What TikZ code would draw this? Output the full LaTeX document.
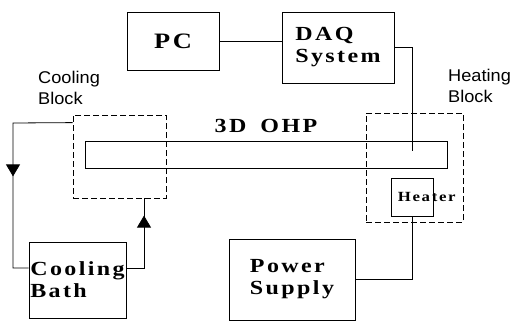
\documentclass[tikz,border=0pt]{standalone}
\usepackage{fontspec}
\usepackage{tikz}
\usetikzlibrary{arrows.meta, positioning, calc, decorations.markings}
\newfontfamily\boxfont[FakeStretch=1.2,LetterSpace=12]{Liberation Serif}
\newfontfamily\sidefont[FakeStretch=1.07]{Liberation Sans}

\begin{document}
\begin{tikzpicture}[
    x=1pt, y=-1pt,
    unit/.style={draw, line width=0.8pt, inner sep=0pt,
                 font=\boxfont\bfseries\fontsize{20}{22}\selectfont, align=left},
    blockzone/.style={draw, line width=0.8pt, dash pattern=on 6pt off 3pt, inner sep=0pt},
    sidelabel/.style={font=\sidefont\fontsize{17}{21}\selectfont, align=left, inner sep=0pt},
    wire/.style={line width=0.8pt},
    flow/.style={line width=0.8pt, postaction={decorate, decoration={markings,
                 mark=at position #1 with {\arrow{Triangle[length=12pt,width=14pt]}}}}},
]
\useasboundingbox (0,0) rectangle (513,321);

% Boxes
\node[unit, minimum width=92pt, minimum height=58pt,
      font=\boxfont\bfseries\fontsize{22}{24}\selectfont] (pc) at (173,41) {PC};
\node[unit, minimum width=112pt, minimum height=71pt] (daq) at (338,47.5) {DAQ\\System};
\node[unit, minimum width=97pt, minimum height=76pt] (bath) at (77.5,280) {Cooling\\Bath};
\node[unit, minimum width=126pt, minimum height=81pt] (power) at (292,279.5) {Power\\Supply};

% Heat pipe and blocks
\node[draw, line width=0.8pt, minimum width=362pt, minimum height=27pt] (ohp) at (266,154.5) {};
\node[unit, draw=none, above=8pt of ohp] (ohplabel) {3D\hspace{14pt}OHP};
\node[blockzone, minimum width=93pt, minimum height=83pt] (cblock) at (119.5,156.5) {};
\node[blockzone, minimum width=97pt, minimum height=109pt] (hblock) at (414.5,167.5) {};
\node[draw, line width=0.8pt, minimum width=42pt, minimum height=38pt] (heater) at (412,197) {};
\node[font=\boxfont\bfseries\fontsize{14}{15}\selectfont, inner sep=0pt,
      anchor=west, right=7pt of heater.west] (heaterlabel) {Heater};

% Labels
\node[sidelabel, anchor=west] (cblocklabel) at (38,88) {Cooling\\Block};
\node[sidelabel, anchor=west] (hblocklabel) at (448,86) {Heating\\Block};

% Connections
\coordinate (probe) at (412,151);
\coordinate (coolout) at ($(cblock.north west)+(0,8)$);
\coordinate (bathin) at ($(bath.west)+(0,-12)$);
\coordinate (bathout) at ($(bath.east)+(0,-12)$);
\coordinate (leftrun) at (13,123);
\coordinate (rightrun) at (144,198);

\draw[wire] (pc.east) -- (pc.east -| daq.west);
\draw[wire] ([yshift=0.5pt]daq.east) -| (probe);
\draw[flow=113pt] (coolout) -- (leftrun) |- (bathin);
\draw[flow=70pt] (bathout) -| (rightrun);
\draw[wire] (power.east) -| (heater.south);
\end{tikzpicture}
\end{document}
